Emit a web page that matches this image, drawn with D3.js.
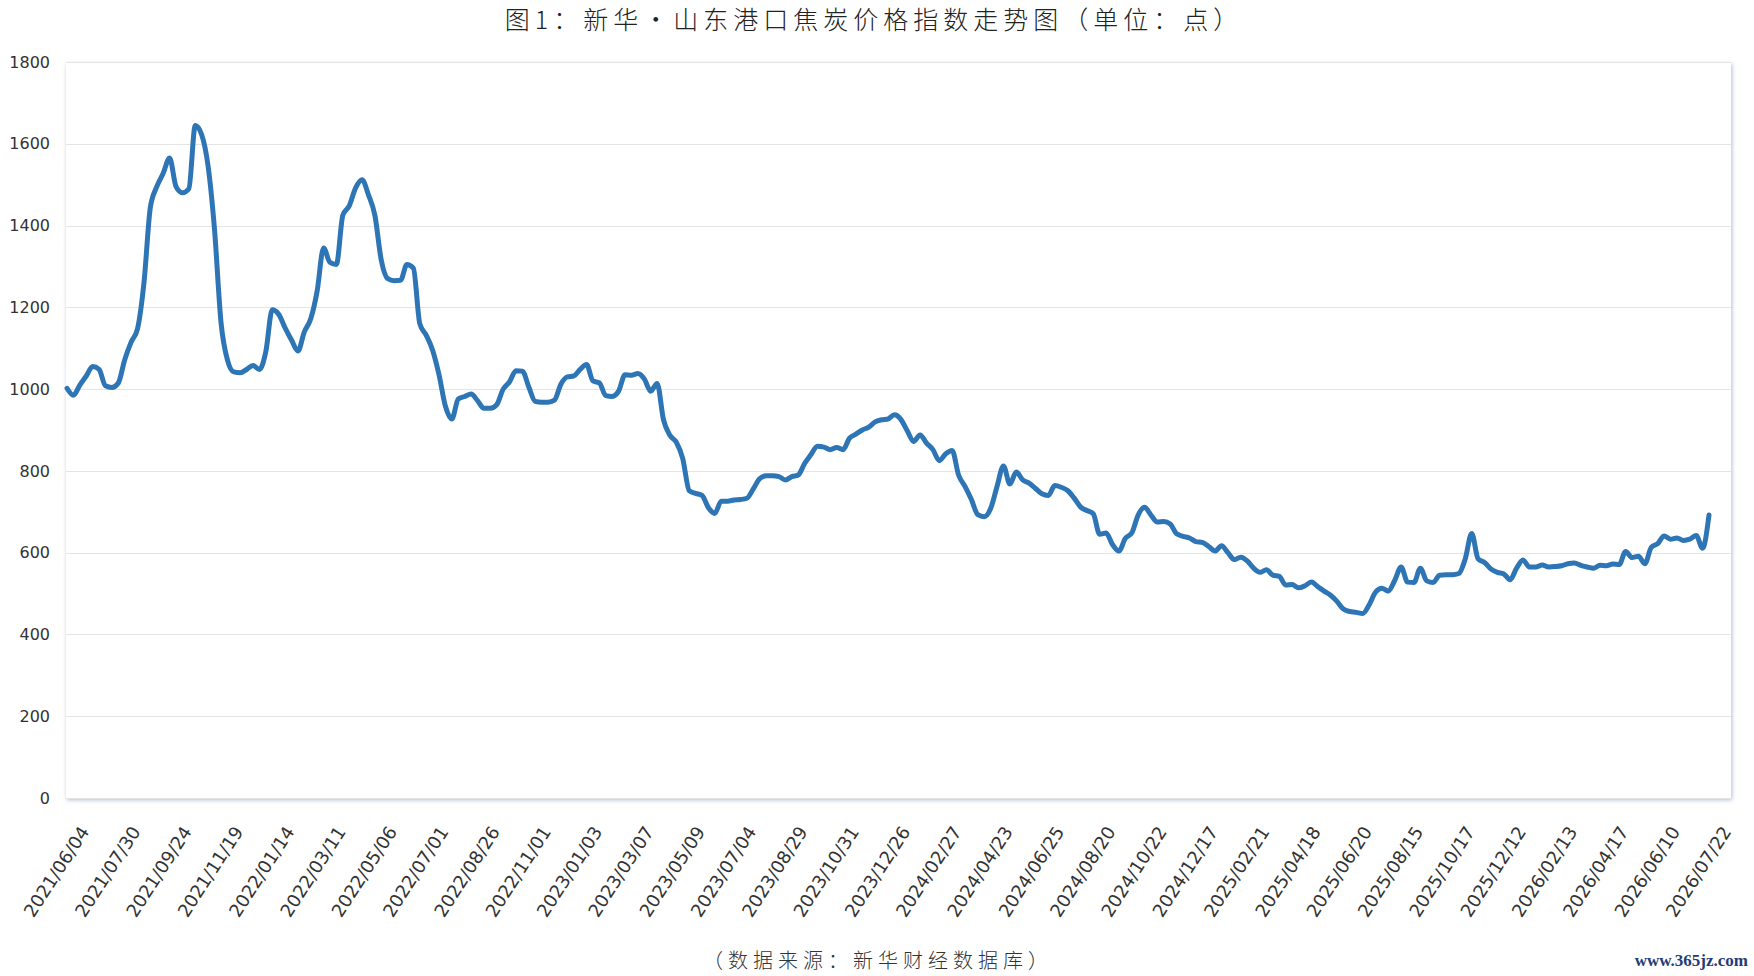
<!DOCTYPE html>
<html>
<head>
<meta charset="utf-8">
<script src="https://cdn.jsdelivr.net/npm/d3@7"></script>
<style>
  html, body { margin: 0; padding: 0; background: #ffffff; }
  svg { display: block; }
</style>
</head>
<body>
<svg id="chart" width="1754" height="976"></svg>
<script>
// ---- data ----
const titleText = "图1：新华•山东港口焦炭价格指数走势图（单位：点）";
const sourceText = "（数据来源：新华财经数据库）";
const watermarkText = "www.365jz.com";

// x-axis labels, one every 8 weekly observations
const xLabels = [
  "2021/06/04","2021/07/30","2021/09/24","2021/11/19","2022/01/14","2022/03/11",
  "2022/05/06","2022/07/01","2022/08/26","2022/11/01","2023/01/03","2023/03/07",
  "2023/05/09","2023/07/04","2023/08/29","2023/10/31","2023/12/26","2024/02/27",
  "2024/04/23","2024/06/25","2024/08/20","2024/10/22","2024/12/17","2025/02/21",
  "2025/04/18","2025/06/20","2025/08/15","2025/10/17","2025/12/12","2026/02/13",
  "2026/04/17","2026/06/10","2026/07/22"
];
const labelStep = 8;

const yTicks = [0, 200, 400, 600, 800, 1000, 1200, 1400, 1600, 1800];

// weekly index values (points)
const indexValues = [
  1002, 985,1010,1032,1055,1048,1008,1004,1015,1072,
  1115,1148,1260,1445,1495,1528,1565,1495,1480,1490,
  1645,1622,1545,1390,1165,1072,1042,1040,1048,1058,
  1048,1092,1194,1183,1150,1120,1093,1140,1172,1240,
  1345,1310,1305,1425,1448,1492,1512,1475,1425,1315,
  1270,1265,1266,1305,1296,1160,1132,1095,1035, 958,
   927, 976, 982, 988, 972, 953, 953, 962,1000,1018,
  1045,1044,1005, 970, 968, 968, 973,1012,1030,1032,
  1048,1060,1020,1015, 984, 982, 995,1035,1034,1038,
  1025, 995,1014, 925, 887, 870, 830, 752, 745, 740,
   710, 696, 726, 726, 729, 730, 733, 756, 781, 788,
   788, 786, 778, 786, 790, 818, 840, 860, 858, 852,
   857, 852, 880, 890, 900, 907, 920, 925, 927, 937,
   926, 898, 872, 888, 868, 852, 825, 842, 850, 790,
   762, 730, 693, 688, 708, 762, 812, 768, 797, 778,
   770, 757, 744, 740, 764, 760, 752, 734, 712, 703,
   695, 645, 648, 620, 604, 635, 648, 692, 711, 692,
   675, 676, 670, 646, 640, 636, 627, 625, 615, 604,
   617, 600, 583, 589, 580, 562, 552, 558, 545, 542,
   521, 522, 514, 519, 528, 517, 506, 496, 481, 462,
   456, 454, 451, 472, 503, 513, 506, 532, 565, 528,
   527, 562, 531, 527, 545, 546, 546, 549, 585, 647,
   585, 576, 560, 552, 548, 534, 562, 582, 565, 565,
   570, 565, 566, 568, 573, 575, 569, 565, 562, 569,
   568, 572, 571, 603, 588, 591, 573, 613, 622, 641,
   633, 636, 630, 633, 642, 611, 692
];

// ---- layout ----
const W = 1754, H = 976;
const plot = { left: 66, right: 1731, top: 62, bottom: 798 };
const lineEndX = 1709;
const svg = d3.select("#chart");

const x = d3.scaleLinear()
  .domain([0, indexValues.length - 1])
  .range([plot.left + 1, lineEndX]);
const y = d3.scaleLinear()
  .domain([0, 1800])
  .range([plot.bottom, plot.top]);

// shadow filter for plot card
const defs = svg.append("defs");
const f = defs.append("filter").attr("id", "cardShadow")
  .attr("x", "-5%").attr("y", "-5%").attr("width", "110%").attr("height", "115%");
f.append("feDropShadow")
  .attr("dx", 1).attr("dy", 2).attr("stdDeviation", 2.2)
  .attr("flood-color", "#6f82b3").attr("flood-opacity", 0.55);

// plot card
svg.append("rect")
  .attr("x", plot.left).attr("y", plot.top)
  .attr("width", plot.right - plot.left).attr("height", plot.bottom - plot.top)
  .attr("fill", "#ffffff")
  .attr("filter", "url(#cardShadow)");

// y axis with gridlines
const yAxis = d3.axisLeft(y)
  .tickValues(yTicks)
  .tickSize(-(plot.right - plot.left))
  .tickPadding(16)
  .tickFormat(d3.format("d"));
const gy = svg.append("g")
  .attr("transform", `translate(${plot.left},0)`)
  .call(yAxis);
gy.select(".domain").remove();
gy.selectAll(".tick line")
  .attr("stroke", "#e4e4e4").attr("stroke-width", 1)
  .attr("shape-rendering", "crispEdges");
gy.selectAll(".tick text")
  .attr("fill", "#333333")
  .style("font-family", "'DejaVu Sans', Verdana, sans-serif")
  .style("font-size", "16px");

// x axis labels
const xAxis = d3.axisBottom(x)
  .tickValues(xLabels.map((d, i) => i * labelStep))
  .tickSize(0)
  .tickFormat(i => xLabels[i / labelStep]);
const gx = svg.append("g")
  .attr("transform", `translate(0,${plot.bottom})`)
  .call(xAxis);
gx.select(".domain").remove();
gx.selectAll(".tick text")
  .attr("y", 0).attr("dy", null)
  .attr("text-anchor", "end")
  .attr("dominant-baseline", "central")
  .attr("transform", "translate(17,30) rotate(-57)")
  .attr("fill", "#333333")
  .style("font-family", "'DejaVu Sans', Verdana, sans-serif")
  .style("font-size", "18px");

// line
const line = d3.line()
  .x((d, i) => x(i))
  .y(d => y(d))
  .curve(d3.curveMonotoneX);
svg.append("path")
  .datum(indexValues)
  .attr("d", line)
  .attr("fill", "none")
  .attr("stroke", "#2e75b6")
  .attr("stroke-width", 5)
  .attr("stroke-linejoin", "round")
  .attr("stroke-linecap", "round");

// title
svg.append("text")
  .attr("x", 874).attr("y", 18)
  .attr("text-anchor", "middle")
  .attr("dominant-baseline", "central")
  .attr("fill", "#222222")
  .style("font-family", "'Noto Sans CJK SC', sans-serif")
  .style("font-weight", 300)
  .style("font-size", "25px")
  .style("letter-spacing", "5px")
  .text(titleText);

// source
svg.append("text")
  .attr("x", 878).attr("y", 959)
  .attr("text-anchor", "middle")
  .attr("dominant-baseline", "central")
  .attr("fill", "#333333")
  .style("font-family", "'Noto Sans CJK SC', sans-serif")
  .style("font-weight", 300)
  .style("font-size", "20px")
  .style("letter-spacing", "5px")
  .text(sourceText);

// watermark
svg.append("text")
  .attr("x", 1748).attr("y", 960)
  .attr("text-anchor", "end")
  .attr("dominant-baseline", "central")
  .attr("fill", "#1f3c78")
  .style("font-family", "'Liberation Serif', serif")
  .style("font-weight", "bold")
  .style("font-size", "17px")
  .text(watermarkText);
</script>
</body>
</html>
